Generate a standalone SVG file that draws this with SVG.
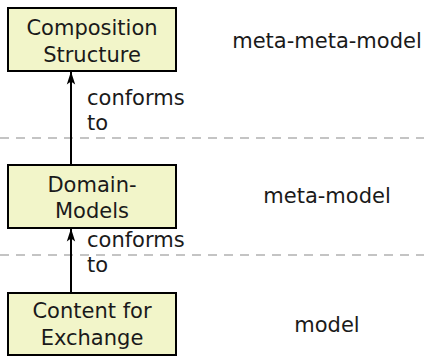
<svg xmlns="http://www.w3.org/2000/svg" width="424" height="356" viewBox="0 0 424 356">
  <style>
    .box { fill: #f2f5c9; stroke: #000; stroke-width: 2; }
    .lbl { font-family: "DejaVu Sans", sans-serif; font-size: 21px; fill: #1a1a1a; text-anchor: middle; }
    .edge-lbl { font-family: "DejaVu Sans", sans-serif; font-size: 21px; fill: #1a1a1a; }
    .level { font-family: "DejaVu Sans", sans-serif; font-size: 21px; fill: #1a1a1a; text-anchor: middle; }
    .sep { stroke: #c4c4c4; stroke-width: 2; stroke-dasharray: 9 7; }
    .conn { stroke: #000; stroke-width: 2; fill: none; marker-end: url(#arrow); }
  </style>
  <defs>
    <!-- slim filled arrowhead with notched base -->
    <marker id="arrow" markerWidth="14" markerHeight="10" refX="13" refY="5" orient="auto" markerUnits="userSpaceOnUse" viewBox="0 0 14 10">
      <path d="M13.5 5 L0.5 0.8 L3.5 5 L0.5 9.2 Z" fill="#000"/>
    </marker>
  </defs>
  <rect width="424" height="356" fill="#fff"/>

  <!-- level separators -->
  <g id="separators">
    <line class="sep" x1="0" y1="138" x2="424" y2="138"/>
    <line class="sep" x1="0" y1="255" x2="424" y2="255"/>
  </g>

  <!-- connectors -->
  <g id="connectors">
    <g id="edge-domain-composition">
      <line class="conn" x1="71" y1="165" x2="71" y2="72"/>
      <text class="edge-lbl" x="87" y="105">conforms</text>
      <text class="edge-lbl" x="87" y="130">to</text>
    </g>
    <g id="edge-content-domain">
      <line class="conn" x1="71" y1="293" x2="71" y2="229"/>
      <text class="edge-lbl" x="87" y="247">conforms</text>
      <text class="edge-lbl" x="87" y="272">to</text>
    </g>
  </g>

  <g id="node-composition">
    <rect class="box" x="8" y="8" width="168" height="63"/>
    <text class="lbl" x="92" y="35">Composition</text>
    <text class="lbl" x="92" y="62">Structure</text>
  </g>
  <g id="node-domain">
    <rect class="box" x="8" y="165" width="168" height="63"/>
    <text class="lbl" x="92" y="192">Domain-</text>
    <text class="lbl" x="92" y="218">Models</text>
  </g>
  <g id="node-content">
    <rect class="box" x="8" y="293" width="168" height="62"/>
    <text class="lbl" x="92" y="318">Content for</text>
    <text class="lbl" x="92" y="345">Exchange</text>
  </g>

  <g id="levels">
    <text class="level" x="327" y="48">meta-meta-model</text>
    <text class="level" x="327" y="203">meta-model</text>
    <text class="level" x="327" y="332">model</text>
  </g>
</svg>
